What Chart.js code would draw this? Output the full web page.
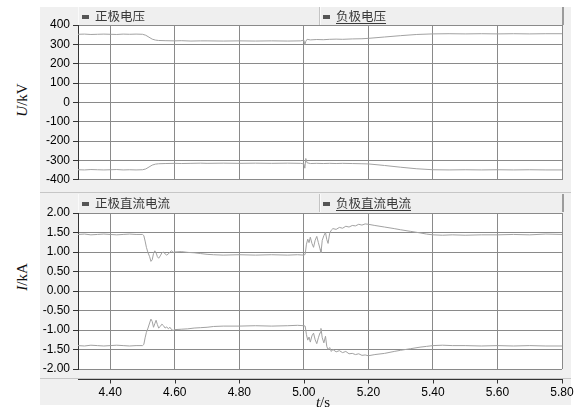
<!DOCTYPE html>
<html>
<head>
<meta charset="utf-8">
<script src="https://cdn.jsdelivr.net/npm/chart.js@4.4.0/dist/chart.umd.min.js"></script>
<style>
  html, body { margin: 0; padding: 0; background: #fff; }
  body { width: 586px; height: 412px; position: relative; overflow: hidden; font-family: "Liberation Sans", Arial, sans-serif; }
  .panel { position: absolute; left: 40px; top: 7px; width: 531px; height: 398px; background: #f0f0f0; }
  .rule { position: absolute; left: 40px; width: 531px; height: 1px; background: #c6c6c6; }
  .head { position: absolute; left: 78px; width: 483px; height: 18px; background: #efefef; border-right: 2px solid #9c9c9c; border-left: 1px solid #fafafa; z-index: 3; }
  .head .sep { position: absolute; left: 240px; top: 0; width: 1px; height: 18px; background: #c4c4c4; border-right: 1px solid #fafafa; }
  .item { position: absolute; top: 0; height: 18px; line-height: 18px; font-family: "Noto Sans CJK SC", sans-serif; font-size: 12.5px; color: #3a3a3a; white-space: nowrap; }
  .item .sw { display: inline-block; width: 7px; height: 4px; background: #555; margin-right: 6px; vertical-align: middle; position: relative; top: -1px; }
  .item u { text-decoration-thickness: 1px; text-underline-offset: 2px; }
  canvas { position: absolute; z-index: 2; }
  .ytitle { position: absolute; font-family: "Liberation Serif", "DejaVu Serif", serif; font-size: 15px; color: #111; transform: translate(-50%, -50%) rotate(-90deg); white-space: nowrap; z-index: 4; }
  .xtitle { position: absolute; font-family: "Liberation Serif", "DejaVu Serif", serif; font-size: 15px; color: #111; transform: translate(-50%, -50%); white-space: nowrap; z-index: 4; }
</style>
</head>
<body>
<div class="panel"></div>
<div class="rule" style="top:192px"></div>
<div class="rule" style="top:378px"></div>

<div class="head" style="top:7px">
  <div class="item" style="left:3px"><span class="sw"></span>正极电压</div>
  <div class="sep"></div>
  <div class="item" style="left:244px"><span class="sw"></span><u>负极电压</u></div>
</div>
<div class="head" style="top:194px">
  <div class="item" style="left:3px"><span class="sw"></span>正极直流电流</div>
  <div class="sep"></div>
  <div class="item" style="left:244px"><span class="sw"></span><u>负极直流电流</u></div>
</div>

<canvas id="voltChart" width="546" height="190" style="left:40px;top:0px;width:546px;height:190px"></canvas>
<canvas id="currChart" width="546" height="222" style="left:40px;top:190px;width:546px;height:222px"></canvas>

<div class="ytitle" style="left:22px;top:100px"><i>U</i>/kV</div>
<div class="ytitle" style="left:22px;top:277px"><i>I</i>/kA</div>
<div class="xtitle" style="left:323px;top:402px"><i>t</i>/s</div>

<script>
// time axis ticks (s)
const timeTicks = [4.40, 4.60, 4.80, 5.00, 5.20, 5.40, 5.60, 5.80];
const voltTicks = [-400, -300, -200, -100, 0, 100, 200, 300, 400];
const currTicks = [-2.0, -1.5, -1.0, -0.5, 0.0, 0.5, 1.0, 1.5, 2.0];

// DC voltage samples (s, kV)
const voltTime = [
  4.30, 4.32, 4.34, 4.36, 4.38, 4.40, 4.42, 4.44, 4.46, 4.48, 4.50,
  4.51, 4.52, 4.53, 4.54, 4.55,
  4.57, 4.60, 4.62, 4.65, 4.68, 4.70,
  4.75, 4.80, 4.85, 4.90, 4.95, 4.99,
  5.00, 5.003, 5.006, 5.01, 5.02,
  5.04, 5.06, 5.08, 5.10, 5.12, 5.15, 5.18, 5.20,
  5.25, 5.30, 5.35, 5.40,
  5.45, 5.50, 5.55, 5.60, 5.65, 5.70, 5.75, 5.80
];
const posVoltage = [
  352, 353, 351, 352, 353, 352, 351, 353, 352, 353, 352,
  347, 337, 327, 322, 320,
  319, 318, 319, 317, 318, 318,
  317, 318, 317, 318, 317, 318,
  322, 298, 316, 326, 323,
  325, 324, 326, 327, 326, 328, 329, 331,
  338, 345, 351, 354,
  355, 354, 355, 354, 355, 354, 355, 355
];
const negVoltage = [
  -348, -349, -347, -348, -349, -348, -347, -349, -348, -349, -348,
  -344, -334, -324, -319, -317,
  -316, -315, -316, -315, -314, -315,
  -314, -315, -314, -315, -314, -315,
  -318, -340, -290, -312, -316,
  -315, -316, -315, -316, -315, -316, -317, -318,
  -326, -335, -343, -348,
  -349, -348, -349, -348, -349, -348, -349, -349
];

// DC current samples (s, kA)
const currTime = [
  4.30, 4.32, 4.34, 4.36, 4.38, 4.40, 4.42, 4.44, 4.46, 4.48, 4.50,
  4.504, 4.508, 4.512, 4.517, 4.522, 4.526, 4.530, 4.534, 4.538, 4.542, 4.546,
  4.550, 4.555, 4.560, 4.565, 4.570, 4.575, 4.580, 4.585, 4.590, 4.595,
  4.60, 4.62, 4.64, 4.66, 4.68, 4.70, 4.72, 4.75, 4.80, 4.85, 4.90, 4.95, 4.98, 5.00,
  5.004, 5.008, 5.012, 5.016, 5.020, 5.025, 5.030, 5.035, 5.040, 5.045,
  5.050, 5.053, 5.057, 5.062, 5.067, 5.071, 5.075, 5.080, 5.085, 5.090,
  5.10, 5.11, 5.12, 5.13, 5.14, 5.15, 5.16, 5.17, 5.18, 5.19, 5.20,
  5.22, 5.25, 5.28, 5.30, 5.33, 5.36, 5.38, 5.40,
  5.43, 5.46, 5.50, 5.55, 5.60, 5.65, 5.70, 5.75, 5.80
];
const posCurrent = [
  1.45, 1.46, 1.44, 1.45, 1.46, 1.45, 1.44, 1.45, 1.46, 1.45, 1.45,
  1.42, 1.28, 1.12, 0.98, 0.88, 0.76, 0.80, 0.96, 1.03, 0.98, 0.88,
  0.84, 0.90, 0.98, 1.00, 0.95, 0.92, 0.95, 1.00, 1.03, 0.99,
  1.00, 1.01, 0.99, 0.98, 0.96, 0.94, 0.93, 0.92, 0.93, 0.92, 0.93, 0.92, 0.93, 0.92,
  0.94, 1.20, 1.33, 1.24, 1.38, 1.22, 1.12, 1.30, 1.40, 1.24,
  1.08, 0.98, 1.30, 1.42, 1.50, 1.32, 1.22, 1.48, 1.56, 1.60,
  1.58, 1.63, 1.61, 1.66, 1.64, 1.68, 1.67, 1.71, 1.69, 1.72, 1.71,
  1.68, 1.64, 1.60, 1.57, 1.53, 1.49, 1.46, 1.44,
  1.43, 1.44, 1.43, 1.44, 1.44, 1.45, 1.44, 1.46, 1.45
];
const negCurrent = [
  -1.40, -1.41, -1.39, -1.40, -1.41, -1.40, -1.39, -1.40, -1.41, -1.40, -1.40,
  -1.37, -1.20, -1.06, -0.95, -0.82, -0.72, -0.78, -0.93, -0.84, -0.75, -0.86,
  -0.95, -0.91, -0.85, -0.89, -0.95, -0.92, -0.97, -0.93, -0.99, -1.01,
  -0.99, -0.98, -0.97, -0.95, -0.94, -0.93, -0.91, -0.90, -0.90, -0.89, -0.90, -0.89, -0.88, -0.89,
  -0.90, -1.12, -1.26, -1.18, -1.31, -1.15, -1.08, -1.25, -1.35, -1.20,
  -1.07, -0.96, -1.20, -1.33, -1.16, -1.42, -1.50, -1.45, -1.55, -1.50,
  -1.56, -1.53, -1.58, -1.55, -1.61, -1.60, -1.63, -1.61, -1.65, -1.64, -1.66,
  -1.63, -1.60, -1.55, -1.52, -1.48, -1.44, -1.42, -1.40,
  -1.39, -1.40, -1.40, -1.41, -1.40, -1.41, -1.40, -1.41, -1.41
];

const GRID = '#8a8a8a';
const TRACE = '#a2a2a2';
const AXIS = '#333333';
const tickFont = { family: '"Liberation Sans", Arial, sans-serif', size: 12 };

const toPoints = (t, v) => t.map((x, i) => ({ x: x, y: v[i] }));

// white plotting area
const plotBackground = {
  id: 'plotBackground',
  beforeDraw(chart) {
    const { ctx, chartArea: a } = chart;
    ctx.save();
    ctx.fillStyle = '#ffffff';
    ctx.fillRect(a.left, a.top, a.right - a.left, a.bottom - a.top);
    ctx.restore();
  }
};

// detached time axis line with short tick marks below the lower plot
const timeAxisLine = {
  id: 'timeAxisLine',
  afterDraw(chart) {
    const { ctx, chartArea: a } = chart;
    const xs = chart.scales.x;
    const y = a.bottom + 10.5;
    ctx.save();
    ctx.strokeStyle = AXIS;
    ctx.lineWidth = 1;
    ctx.beginPath();
    ctx.moveTo(a.left, y);
    ctx.lineTo(a.right + 1, y);
    timeTicks.forEach(v => {
      const px = Math.round(xs.getPixelForValue(v)) + 0.5;
      ctx.moveTo(px, y);
      ctx.lineTo(px, y + 4);
    });
    ctx.stroke();
    ctx.restore();
  }
};

function timeScale(showLabels) {
  return {
    type: 'linear',
    min: 4.30,
    max: 5.80,
    afterBuildTicks: s => { s.ticks = timeTicks.map(v => ({ value: v })); },
    afterFit: s => { s.height = showLabels ? 43 : 0; },
    border: { display: false },
    grid: {
      color: GRID,
      lineWidth: 1,
      drawTicks: showLabels,
      tickLength: 14,
      tickColor: 'rgba(0,0,0,0)'
    },
    ticks: {
      display: showLabels,
      autoSkip: false,
      maxRotation: 0,
      padding: 2,
      color: '#000',
      font: tickFont,
      callback: v => Number(v).toFixed(2)
    }
  };
}

function valueScale(ticks, fmt) {
  return {
    type: 'linear',
    min: ticks[0],
    max: ticks[ticks.length - 1],
    afterBuildTicks: s => { s.ticks = ticks.map(v => ({ value: v })); },
    afterFit: s => { s.width = 38; },
    border: { display: true, color: AXIS, width: 1 },
    grid: { color: GRID, lineWidth: 1, drawTicks: true, tickLength: 5, tickColor: AXIS },
    ticks: { padding: 3, color: '#000', font: tickFont, callback: fmt }
  };
}

function traceSet(label, pts) {
  return {
    label: label,
    data: pts,
    borderColor: TRACE,
    backgroundColor: TRACE,
    borderWidth: 1,
    pointRadius: 0,
    tension: 0,
    fill: false
  };
}

const common = {
  responsive: false,
  animation: false,
  events: [],
  plugins: { legend: { display: false }, tooltip: { enabled: false } }
};

new Chart(document.getElementById('voltChart'), {
  type: 'line',
  data: {
    datasets: [
      traceSet('正极电压', toPoints(voltTime, posVoltage)),
      traceSet('负极电压', toPoints(voltTime, negVoltage))
    ]
  },
  options: Object.assign({}, common, {
    layout: { padding: { left: 0, right: 24, top: 25, bottom: 8 } },
    scales: {
      x: timeScale(false),
      y: valueScale(voltTicks, v => String(Math.round(v)))
    }
  }),
  plugins: [plotBackground]
});

new Chart(document.getElementById('currChart'), {
  type: 'line',
  data: {
    datasets: [
      traceSet('正极直流电流', toPoints(currTime, posCurrent)),
      traceSet('负极直流电流', toPoints(currTime, negCurrent))
    ]
  },
  options: Object.assign({}, common, {
    layout: { padding: { left: 0, right: 24, top: 23, bottom: 0 } },
    scales: {
      x: timeScale(true),
      y: valueScale(currTicks, v => Number(v).toFixed(2))
    }
  }),
  plugins: [plotBackground, timeAxisLine]
});
</script>
</body>
</html>
